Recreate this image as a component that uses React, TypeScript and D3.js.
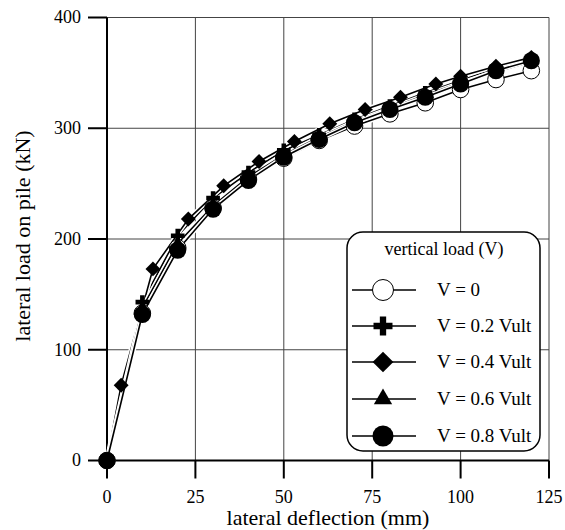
import * as d3 from 'd3'

// deflection (mm) sampled for most series
const xMain = [0, 10, 20, 30, 40, 50, 60, 70, 80, 90, 100, 110, 120]
// diamond series was sampled at other deflections
const xDiamond = [0, 4, 13, 23, 33, 43, 53, 63, 73, 83, 93, 100, 110, 120]

const loadV0 = [0, 133, 192, 228, 254, 273, 289, 302, 313, 323, 335, 344, 352]
const loadV02 = [0, 143, 203, 237, 260, 280, 294, 308, 320, 332, 343, 354, 362]
const loadV04 = [0, 68, 173, 218, 248, 270, 288, 304, 317, 328, 340, 347, 356, 364]
const loadV06 = [0, 138, 196, 230, 256, 276, 292, 306, 318, 330, 341, 351, 360]
const loadV08 = [0, 132, 190, 227, 253, 274, 290, 305, 317, 328, 340, 352, 361]

const legendLabels = ['V = 0', 'V = 0.2 Vult', 'V = 0.4 Vult', 'V = 0.6 Vult', 'V = 0.8 Vult']
const xTickValues = [0, 25, 50, 75, 100, 125]
const yTickValues = [0, 100, 200, 300, 400]

type Kind = 'open' | 'plus' | 'diamond' | 'triangle' | 'dot'

const series: { kind: Kind; xs: number[]; ys: number[] }[] = [
  { kind: 'open', xs: xMain, ys: loadV0 },
  { kind: 'plus', xs: xMain, ys: loadV02 },
  { kind: 'diamond', xs: xDiamond, ys: loadV04 },
  { kind: 'triangle', xs: xMain, ys: loadV06 },
  { kind: 'dot', xs: xMain, ys: loadV08 },
]

const FONT = "'Liberation Serif', 'DejaVu Serif', serif"
const left = 107
const right = 549
const top = 17.5
const bottom = 460.5

const x = d3.scaleLinear().domain([0, 125]).range([left, right])
const y = d3.scaleLinear().domain([0, 400]).range([bottom, top])

const Marker = ({ kind, cx, cy, big }: { kind: Kind; cx: number; cy: number; big?: boolean }) => {
  const k = big ? 1 : 0.72
  if (kind === 'open')
    return <circle cx={cx} cy={cy} r={big ? 10.5 : 8.3} fill="#fff" stroke="#000" strokeWidth={1} />
  if (kind === 'dot') return <circle cx={cx} cy={cy} r={big ? 10.5 : 8.6} fill="#000" />
  let d = ''
  let rot = 0
  if (kind === 'plus') d = d3.symbol(d3.symbolCross, 200 * k * k)()!
  if (kind === 'triangle') d = d3.symbol(d3.symbolTriangle, 145 * k * k)()!
  if (kind === 'diamond') {
    d = d3.symbol(d3.symbolSquare, 215 * k * k)()!
    rot = 45
  }
  return <path d={d} transform={`translate(${cx},${cy}) rotate(${rot})`} fill="#000" />
}

export default function App() {
  const line = d3.line<[number, number]>().x(d => x(d[0])).y(d => y(d[1]))
  const legendRows = [290, 326, 362, 399, 436]
  const pointSets = series.map(s => s.xs.map((v, j) => [v, s.ys[j]] as [number, number]))

  return (
    <svg
      width={565}
      height={530}
      style={{ position: 'absolute', left: 0, top: 0, background: '#fff', fontFamily: FONT }}
    >
      {/* grid */}
      <g stroke="#444" strokeWidth={1}>
        {xTickValues.slice(1).map(v => (
          <line key={v} x1={x(v)} x2={x(v)} y1={top} y2={bottom} />
        ))}
        {yTickValues.slice(1).map(v => (
          <line key={v} x1={left} x2={right} y1={y(v)} y2={y(v)} />
        ))}
      </g>
      {/* axes */}
      <g stroke="#000" strokeWidth={2}>
        <line x1={left} x2={left} y1={top} y2={bottom + 1} />
        <line x1={left - 1} x2={right} y1={bottom} y2={bottom} />
        {yTickValues.map(v => (
          <line key={v} x1={left - 19} x2={left} y1={y(v)} y2={y(v)} />
        ))}
        {xTickValues.map(v => (
          <line key={v} x1={x(v)} x2={x(v)} y1={bottom} y2={bottom + 18} />
        ))}
      </g>
      <g fontSize={18} fill="#000">
        {yTickValues.map(v => (
          <text key={v} x={left - 26} y={y(v)} dy="0.33em" textAnchor="end">
            {v}
          </text>
        ))}
        {xTickValues.map(v => (
          <text key={v} x={x(v)} y={bottom + 42} textAnchor="middle">
            {v}
          </text>
        ))}
      </g>
      <text x={328} y={525} fontSize={22} textAnchor="middle">
        lateral deflection (mm)
      </text>
      <text transform="translate(30,236) rotate(-90)" fontSize={22} textAnchor="middle">
        lateral load on pile (kN)
      </text>

      {/* series lines first, markers on top */}
      {pointSets.map((pts, i) => (
        <g key={i}>
          <path d={line(pts)!} fill="none" stroke="#fff" strokeWidth={4.5} />
          <path d={line(pts)!} fill="none" stroke="#000" strokeWidth={1.6} />
        </g>
      ))}
      {pointSets.map((pts, i) => (
        <g key={i}>
          {pts.map((p, j) => (
            <Marker key={j} kind={series[i].kind} cx={x(p[0])} cy={y(p[1])} />
          ))}
        </g>
      ))}

      {/* legend */}
      <g>
        <rect x={347} y={232} width={193} height={219} rx={16} fill="#fff" stroke="#000" strokeWidth={1.5} />
        <text x={444} y={255} fontSize={18} textAnchor="middle">
          vertical load (V)
        </text>
        {series.map((s, i) => (
          <g key={i}>
            <line x1={352} x2={416} y1={legendRows[i]} y2={legendRows[i]} stroke="#000" strokeWidth={1.6} />
            <Marker kind={s.kind} cx={383} cy={legendRows[i]} big />
            <text x={437} y={legendRows[i]} dy="0.34em" fontSize={19}>
              {legendLabels[i]}
            </text>
          </g>
        ))}
      </g>
    </svg>
  )
}
